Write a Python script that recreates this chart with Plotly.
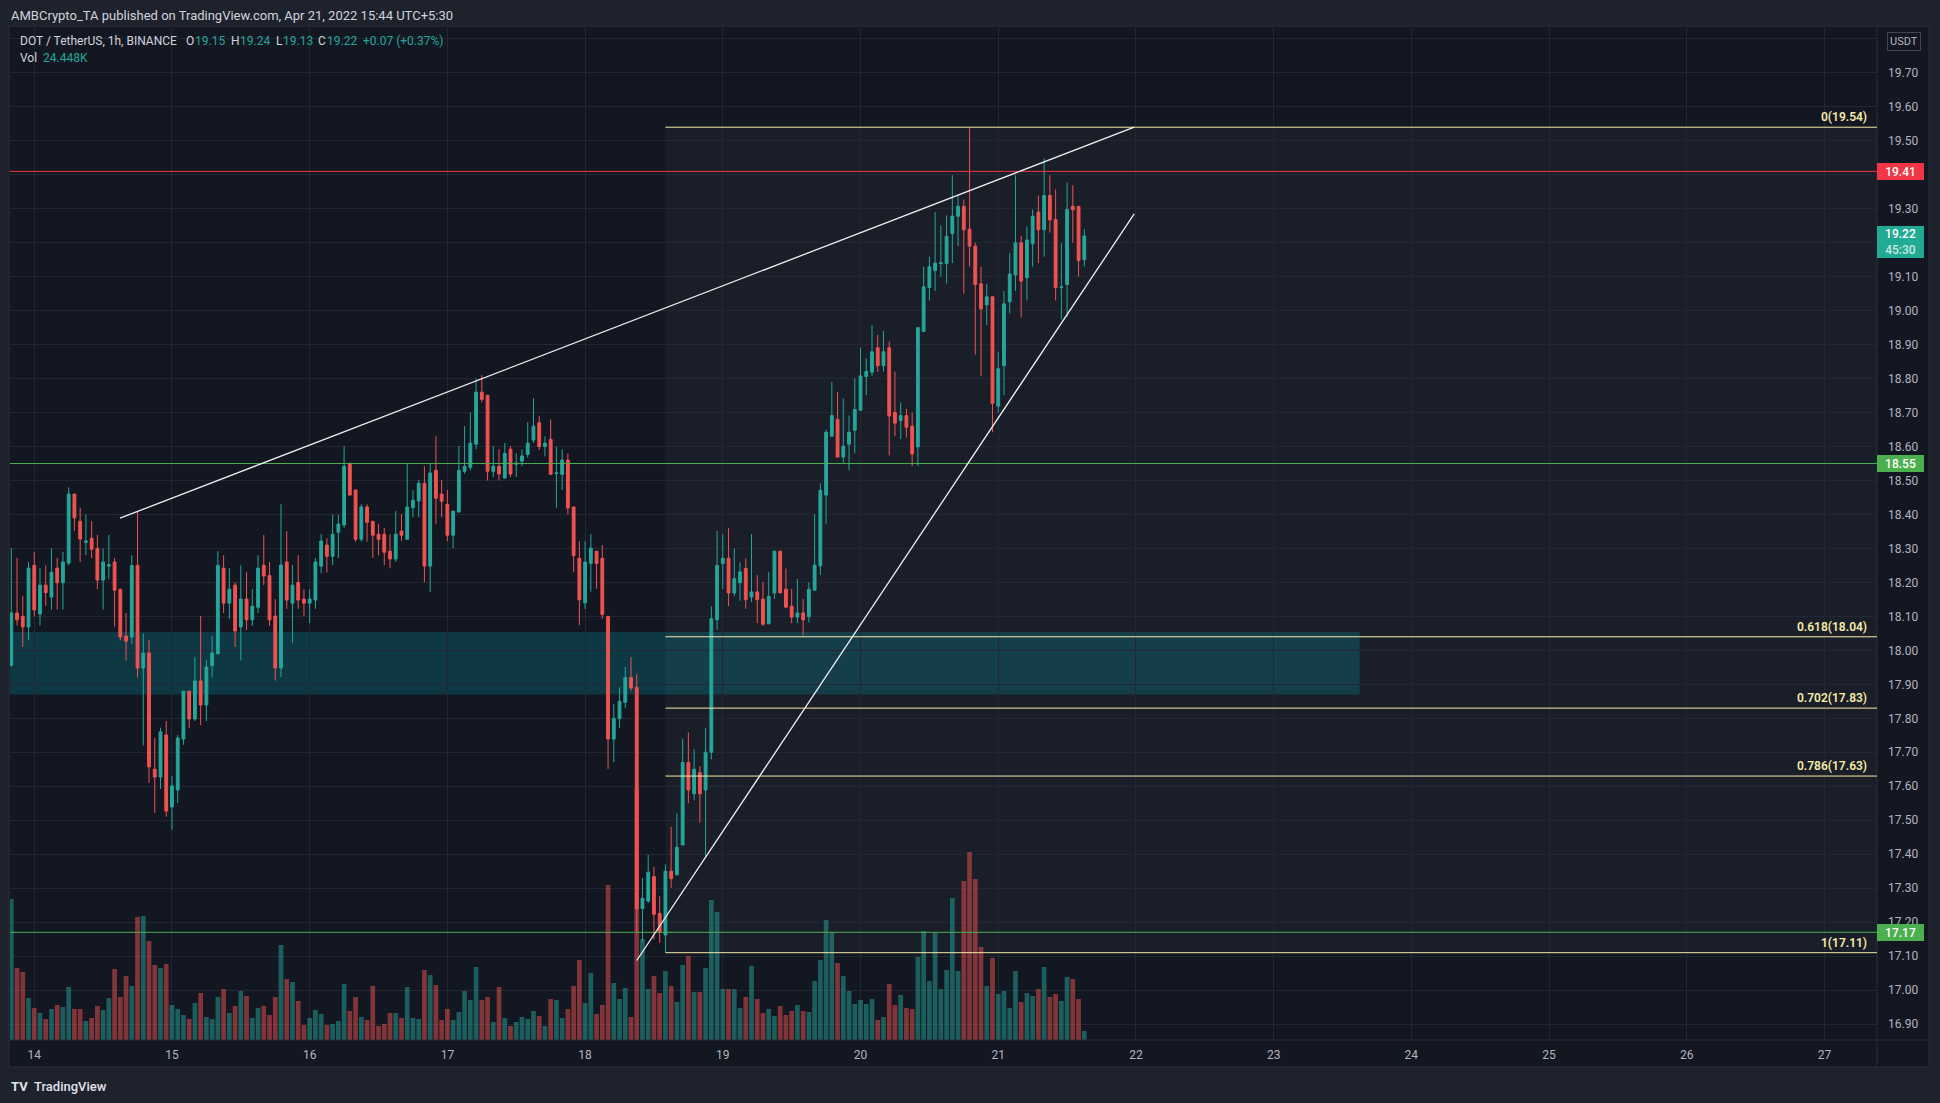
import plotly.graph_objects as go
import pandas as pd

# ---------------- data ----------------
times = pd.date_range("2022-04-13 20:30", periods=188, freq="h")

opens = [17.956, 18.110, 18.100, 18.069, 18.250, 18.107, 18.192, 18.157, 18.242, 18.199,
         18.257, 18.460, 18.380, 18.318, 18.330, 18.300, 18.207, 18.248, 18.260, 18.180,
         18.042, 18.039, 18.250, 17.948, 17.992, 17.650, 17.627, 17.751, 17.539, 17.589,
         17.739, 17.880, 17.798, 17.910, 17.839, 17.955, 17.990, 18.242, 18.139, 18.192,
         18.069, 18.151, 18.090, 18.127, 18.250, 18.220, 18.101, 17.948, 18.260, 18.139,
         18.200, 18.151, 18.139, 18.148, 18.248, 18.310, 18.277, 18.348, 18.369, 18.551,
         18.472, 18.327, 18.422, 18.380, 18.342, 18.342, 18.292, 18.269, 18.351, 18.327,
         18.420, 18.440, 18.492, 18.248, 18.530, 18.460, 18.430, 18.339, 18.407, 18.527,
         18.539, 18.607, 18.760, 18.751, 18.527, 18.542, 18.507, 18.592, 18.548, 18.557,
         18.577, 18.619, 18.670, 18.600, 18.621, 18.520, 18.518, 18.560, 18.422, 18.271,
         18.140, 18.256, 18.292, 18.271, 18.100, 17.739, 17.799, 17.847, 17.920, 17.891,
         17.240, 17.262, 17.334, 17.226, 17.162, 17.350, 17.339, 17.427, 17.670, 17.578,
         17.640, 17.589, 17.700, 18.090, 18.256, 18.271, 18.169, 18.199, 18.241, 18.157,
         18.172, 18.151, 18.078, 18.169, 18.292, 18.180, 18.130, 18.098, 18.110, 18.099,
         18.177, 18.249, 18.457, 18.630, 18.680, 18.569, 18.607, 18.648, 18.707, 18.806,
         18.819, 18.891, 18.838, 18.891, 18.700, 18.677, 18.691, 18.660, 18.599, 18.939,
         19.068, 19.118, 19.139, 19.139, 19.227, 19.278, 19.307, 19.240, 19.190, 19.079,
         19.017, 19.041, 18.719, 18.838, 19.026, 19.105, 19.200, 19.097, 19.197, 19.290,
         19.238, 19.339, 19.268, 19.068, 19.077, 19.307, 19.307, 19.150]

highs = [18.301, 18.272, 18.160, 18.260, 18.290, 18.242, 18.250, 18.300, 18.272, 18.290,
         18.480, 18.460, 18.420, 18.400, 18.380, 18.340, 18.300, 18.340, 18.272, 18.180,
         18.110, 18.280, 18.410, 18.050, 18.030, 17.742, 17.772, 17.792, 17.630, 17.751,
         17.880, 17.880, 17.980, 18.101, 17.972, 18.042, 18.292, 18.280, 18.242, 18.200,
         18.250, 18.230, 18.180, 18.280, 18.340, 18.260, 18.151, 18.430, 18.351, 18.251,
         18.280, 18.180, 18.180, 18.272, 18.342, 18.330, 18.400, 18.400, 18.601, 18.551,
         18.472, 18.430, 18.430, 18.380, 18.372, 18.360, 18.342, 18.410, 18.401, 18.551,
         18.472, 18.501, 18.542, 18.551, 18.630, 18.501, 18.472, 18.410, 18.601, 18.660,
         18.700, 18.800, 18.810, 18.751, 18.601, 18.592, 18.610, 18.601, 18.580, 18.592,
         18.672, 18.742, 18.690, 18.630, 18.680, 18.600, 18.592, 18.580, 18.422, 18.321,
         18.321, 18.342, 18.292, 18.310, 18.100, 17.843, 17.891, 17.951, 17.980, 17.930,
         17.330, 17.398, 17.363, 17.276, 17.370, 17.480, 17.520, 17.740, 17.758, 17.709,
         17.659, 17.772, 18.130, 18.351, 18.342, 18.360, 18.300, 18.259, 18.271, 18.342,
         18.221, 18.201, 18.230, 18.292, 18.292, 18.241, 18.181, 18.210, 18.151, 18.201,
         18.401, 18.492, 18.650, 18.790, 18.760, 18.741, 18.691, 18.801, 18.891, 18.859,
         18.958, 18.929, 18.940, 18.909, 18.821, 18.730, 18.711, 18.700, 18.950, 19.129,
         19.159, 19.290, 19.250, 19.280, 19.399, 19.339, 19.327, 19.540, 19.200, 19.129,
         19.079, 19.041, 18.879, 19.058, 19.169, 19.399, 19.220, 19.248, 19.298, 19.339,
         19.448, 19.399, 19.357, 19.198, 19.378, 19.369, 19.307, 19.240]

lows = [17.953, 18.073, 18.010, 18.030, 18.100, 18.073, 18.131, 18.120, 18.120, 18.120,
        18.251, 18.352, 18.260, 18.280, 18.272, 18.180, 18.120, 18.210, 18.070, 18.030,
        17.970, 18.020, 17.920, 17.720, 17.610, 17.522, 17.592, 17.510, 17.472, 17.551,
        17.722, 17.772, 17.792, 17.780, 17.792, 17.920, 17.990, 18.110, 18.092, 18.010,
        17.970, 18.060, 18.072, 18.110, 18.192, 18.072, 17.911, 17.922, 18.122, 18.022,
        18.122, 18.101, 18.080, 18.122, 18.227, 18.230, 18.251, 18.272, 18.360, 18.457,
        18.320, 18.320, 18.320, 18.272, 18.280, 18.251, 18.242, 18.260, 18.322, 18.327,
        18.392, 18.392, 18.201, 18.172, 18.372, 18.392, 18.322, 18.301, 18.407, 18.520,
        18.530, 18.592, 18.730, 18.500, 18.510, 18.500, 18.507, 18.510, 18.510, 18.542,
        18.568, 18.610, 18.590, 18.571, 18.518, 18.420, 18.472, 18.400, 18.231, 18.074,
        18.122, 18.173, 18.181, 18.093, 17.651, 17.671, 17.772, 17.830, 17.881, 17.170,
        17.140, 17.256, 17.149, 17.139, 17.110, 17.301, 17.339, 17.427, 17.550, 17.560,
        17.493, 17.392, 17.679, 18.060, 18.181, 18.130, 18.160, 18.146, 18.122, 18.142,
        18.080, 18.072, 18.078, 18.151, 18.169, 18.127, 18.080, 18.080, 18.044, 18.082,
        18.177, 18.222, 18.373, 18.630, 18.569, 18.552, 18.530, 18.580, 18.707, 18.751,
        18.808, 18.820, 18.821, 18.574, 18.630, 18.622, 18.626, 18.543, 18.543, 18.939,
        19.030, 19.058, 19.100, 19.080, 19.140, 19.190, 19.050, 19.130, 18.871, 18.808,
        18.958, 18.642, 18.700, 18.751, 18.992, 19.058, 18.980, 19.030, 19.130, 19.140,
        19.159, 19.230, 19.030, 18.974, 18.981, 19.200, 19.100, 19.130]

closes = [18.110, 18.090, 18.069, 18.242, 18.119, 18.192, 18.170, 18.230, 18.199, 18.260,
          18.460, 18.390, 18.328, 18.322, 18.298, 18.207, 18.260, 18.252, 18.177, 18.039,
          18.027, 18.250, 17.948, 17.992, 17.657, 17.627, 17.760, 17.527, 17.601, 17.742,
          17.880, 17.798, 17.910, 17.839, 17.951, 17.992, 18.250, 18.139, 18.180, 18.057,
          18.151, 18.090, 18.130, 18.242, 18.219, 18.090, 17.948, 18.251, 18.148, 18.192,
          18.148, 18.139, 18.151, 18.260, 18.322, 18.277, 18.342, 18.372, 18.542, 18.457,
          18.327, 18.422, 18.377, 18.339, 18.327, 18.289, 18.269, 18.342, 18.339, 18.422,
          18.442, 18.492, 18.248, 18.522, 18.448, 18.439, 18.339, 18.410, 18.530, 18.542,
          18.610, 18.760, 18.739, 18.527, 18.542, 18.519, 18.580, 18.519, 18.551, 18.572,
          18.610, 18.660, 18.600, 18.610, 18.518, 18.522, 18.560, 18.419, 18.279, 18.149,
          18.260, 18.301, 18.256, 18.106, 17.739, 17.800, 17.850, 17.920, 17.889, 17.239,
          17.270, 17.347, 17.223, 17.171, 17.350, 17.328, 17.420, 17.670, 17.589, 17.650,
          17.578, 17.700, 18.093, 18.250, 18.271, 18.169, 18.211, 18.231, 18.149, 18.172,
          18.149, 18.077, 18.159, 18.292, 18.169, 18.127, 18.098, 18.110, 18.090, 18.180,
          18.251, 18.471, 18.642, 18.691, 18.569, 18.601, 18.642, 18.709, 18.808, 18.821,
          18.879, 18.838, 18.879, 18.690, 18.669, 18.691, 18.657, 18.578, 18.950, 19.070,
          19.129, 19.140, 19.141, 19.219, 19.278, 19.307, 19.238, 19.190, 19.077, 19.005,
          19.041, 18.727, 18.829, 19.020, 19.108, 19.200, 19.087, 19.208, 19.278, 19.238,
          19.339, 19.267, 19.068, 19.070, 19.298, 19.297, 19.148, 19.220]

# relative volume
volume = [141, 72, 68, 42, 32, 27, 21, 31, 35, 33,
          53, 31, 31, 19, 22, 34, 30, 42, 71, 43,
          64, 54, 123, 124, 99, 75, 72, 76, 35, 31,
          25, 21, 37, 47, 23, 21, 43, 51, 27, 34,
          49, 44, 22, 32, 34, 25, 43, 95, 61, 58,
          39, 15, 22, 30, 26, 15, 16, 19, 56, 29,
          43, 23, 20, 54, 14, 16, 27, 27, 22, 53,
          22, 21, 70, 65, 55, 20, 31, 20, 28, 49,
          40, 73, 40, 43, 18, 53, 22, 14, 18, 23,
          21, 29, 24, 14, 41, 40, 22, 31, 54, 80,
          37, 67, 26, 35, 155, 57, 41, 52, 23, 252,
          101, 51, 64, 47, 69, 54, 38, 75, 84, 48,
          48, 72, 140, 128, 51, 51, 51, 32, 43, 74,
          41, 27, 31, 24, 34, 25, 29, 35, 29, 28,
          59, 80, 120, 108, 77, 64, 49, 36, 40, 36,
          41, 20, 23, 56, 35, 45, 32, 31, 83, 109,
          59, 107, 51, 70, 142, 69, 159, 188, 161, 93,
          54, 82, 46, 49, 32, 69, 38, 47, 44, 51,
          73, 43, 46, 39, 63, 61, 41, 9]

price_ticks = [16.9, 17.0, 17.1, 17.2, 17.3, 17.4, 17.5, 17.6, 17.7, 17.8, 17.9, 18.0,
               18.1, 18.2, 18.3, 18.4, 18.5, 18.6, 18.7, 18.8, 18.9, 19.0, 19.1, 19.2,
               19.3, 19.4, 19.5, 19.6, 19.7, 19.8]
hidden_ticks = [19.2, 19.4, 19.8]

fib_levels = [0, 0.618, 0.702, 0.786, 1]
fib_prices = [19.54, 18.04, 17.83, 17.63, 17.11]
fib_start = "2022-04-18 14:30"

red_level = 19.41
green_levels = [18.55, 17.17]
zone_low, zone_high = 17.87, 18.054
zone_end = "2022-04-23 15:30"

upper_trend_t = ["2022-04-14 15:26", "2022-04-22 00:12"]
upper_trend_p = [18.389, 19.54]
lower_trend_t = ["2022-04-18 09:30", "2022-04-22 00:12"]
lower_trend_p = [17.087, 19.285]

change_text = "+0.07 (+0.37%)"
last_price_label = "19.22"
countdown = "45:30"
vol_label = "24.448K"

# ---------------- layout constants ----------------
W, H = 1940, 1103
PL, PR, PT, PB = 10, 1877, 27, 1040
PW, PH = PR - PL, PB - PT
X_LEFT, X_RIGHT = "2022-04-13 20:16:24", "2022-04-27 09:39"
Y_LO, Y_HI = 16.853, 19.835

FRAME = "#1e222d"
PANEL = "#131722"
GRID = "#232733"
BORDER = "#2a2e39"
AXIS_TXT = "#b2b5be"
TXT = "#d1d4dc"
UP = "#26a69a"
DOWN = "#ef5350"
FIB = "#f6eba8"
FONT = "Roboto"


def px_x(px):
    return (px - PL) / PW


def px_y(py):
    return (PB - py) / PH


fig = go.Figure()

vol_colors = ["rgba(38,166,154,0.5)" if c >= o else "rgba(239,83,80,0.5)"
              for o, c in zip(opens, closes)]
fig.add_trace(go.Bar(x=times, y=volume, marker=dict(color=vol_colors, line=dict(width=0)),
                     width=0.82 * 3600000, yaxis="y", hoverinfo="skip", showlegend=False))

fig.add_trace(go.Candlestick(
    x=times, open=opens, high=highs, low=lows, close=closes, yaxis="y2",
    increasing=dict(line=dict(color=UP, width=1), fillcolor=UP),
    decreasing=dict(line=dict(color=DOWN, width=1), fillcolor=DOWN),
    whiskerwidth=0, showlegend=False))

shapes = []
# chart panel
shapes.append(dict(type="rect", xref="paper", yref="paper", x0=px_x(9), x1=px_x(1929),
                   y0=px_y(1067), y1=px_y(26), fillcolor=PANEL,
                   line=dict(color=BORDER, width=1), layer="below"))
# fib background
shapes.append(dict(type="rect", xref="x", yref="y2", x0=fib_start, x1=X_RIGHT,
                   y0=min(fib_prices), y1=max(fib_prices),
                   fillcolor="rgba(255,255,255,0.03)", line=dict(width=0), layer="below"))
# teal zone
shapes.append(dict(type="rect", xref="x", yref="y2", x0=X_LEFT, x1=zone_end,
                   y0=zone_low, y1=zone_high, fillcolor="rgba(0,188,212,0.2)",
                   line=dict(width=0), layer="below"))
# separators
shapes.append(dict(type="line", xref="paper", yref="paper", x0=px_x(PR), x1=px_x(PR),
                   y0=px_y(1067), y1=px_y(26), line=dict(color=BORDER, width=1), layer="above"))
shapes.append(dict(type="line", xref="paper", yref="paper", x0=px_x(9), x1=px_x(1929),
                   y0=0, y1=0, line=dict(color=BORDER, width=1), layer="above"))
# horizontal levels
shapes.append(dict(type="line", xref="x", yref="y2", x0=X_LEFT, x1=X_RIGHT,
                   y0=red_level, y1=red_level, line=dict(color="#f23645", width=1), layer="above"))
for g in green_levels:
    shapes.append(dict(type="line", xref="x", yref="y2", x0=X_LEFT, x1=X_RIGHT,
                       y0=g, y1=g, line=dict(color="#4caf50", width=1), layer="above"))
# fib lines
for p in fib_prices:
    shapes.append(dict(type="line", xref="x", yref="y2", x0=fib_start, x1=X_RIGHT,
                       y0=p, y1=p, line=dict(color=FIB, width=1), layer="above"))
# trend lines
for tt, pp in ((upper_trend_t, upper_trend_p), (lower_trend_t, lower_trend_p)):
    shapes.append(dict(type="line", xref="x", yref="y2", x0=tt[0], x1=tt[1],
                       y0=pp[0], y1=pp[1], line=dict(color="#f0f0f0", width=1.3), layer="above"))

ann = []


def txt(px, py, s, color=TXT, size=13, anchor="left", weight="normal"):
    ann.append(dict(xref="paper", yref="paper", x=px_x(px), y=px_y(py), text=s,
                    showarrow=False, xanchor=anchor, yanchor="middle",
                    font=dict(family=FONT, size=size, color=color, weight=weight)))


LS = 12
txt(9, 15, "AMBCrypto_TA published on TradingView.com, Apr 21, 2022 15:44 UTC+5:30", size=13)
txt(18, 41, "DOT / TetherUS, 1h, BINANCE", size=LS)
txt(184, 41, "O", size=LS)
txt(193, 41, f"{opens[-1]:.2f}", color=UP, size=LS)
txt(229, 41, "H", size=LS)
txt(238, 41, f"{highs[-1]:.2f}", color=UP, size=LS)
txt(274, 41, "L", size=LS)
txt(281, 41, f"{lows[-1]:.2f}", color=UP, size=LS)
txt(316, 41, "C", size=LS)
txt(325, 41, f"{closes[-1]:.2f}", color=UP, size=LS)
txt(361, 41, change_text, color=UP, size=LS)
txt(18, 58, "Vol", size=LS)
txt(41, 58, vol_label, color=UP, size=LS)
txt(9, 1086, "<b>TV</b>", color="#e0e3eb", size=13)
txt(32, 1086, "TradingView", color="#e0e3eb", size=13, weight=500)

# fib labels
for lvl, p in zip(fib_levels, fib_prices):
    ann.append(dict(xref="paper", yref="y2", x=px_x(1869), y=p, yshift=1,
                    text=f"{lvl:g}({p:.2f})", showarrow=False, xanchor="right", yanchor="bottom",
                    font=dict(family=FONT, size=12, color=FIB, weight=600)))

# price-axis boxes


def price_box(p, s, bg, height=17, yanchor="middle", yshift=0):
    ann.append(dict(xref="paper", yref="y2", x=px_x(PR), y=p, yshift=yshift, text=s,
                    showarrow=False, xanchor="left", yanchor=yanchor, bgcolor=bg,
                    width=47, height=height, borderpad=0, borderwidth=0, align="center",
                    valign="middle",
                    font=dict(family=FONT, size=12, color="#ffffff", weight=500)))


price_box(red_level, f"{red_level:.2f}", "#f23645")
for g in green_levels:
    price_box(g, f"{g:.2f}", "#4caf50")
price_box(closes[-1], f"{last_price_label}<br><span style='color:rgba(255,255,255,0.75)'>{countdown}</span>",
          "#22ab94", height=32, yanchor="top", yshift=10)

# USDT box
ann.append(dict(xref="paper", yref="paper", x=px_x(1904), y=px_y(42), text="USDT",
                showarrow=False, xanchor="center", yanchor="middle", bordercolor="#434651",
                borderwidth=1, borderpad=2, font=dict(family=FONT, size=11, color=AXIS_TXT)))

fig.update_layout(
    width=W, height=H,
    paper_bgcolor=FRAME, plot_bgcolor=PANEL,
    margin=dict(l=PL, r=W - PR, t=PT, b=H - PB, autoexpand=False),
    showlegend=False,
    shapes=shapes, annotations=ann,
    xaxis=dict(type="date", range=[X_LEFT, X_RIGHT], tick0="2022-04-14 00:30",
               dtick=86400000, tickformat="%-d", showgrid=True, gridcolor=GRID, gridwidth=1,
               zeroline=False, showline=False, ticks="", rangeslider=dict(visible=False),
               tickfont=dict(family=FONT, size=12, color=AXIS_TXT), ticklabelstandoff=6,
               fixedrange=True),
    yaxis=dict(range=[0, PH], visible=False, showgrid=False, zeroline=False, fixedrange=True),
    yaxis2=dict(overlaying="y", side="right", anchor="x", range=[Y_LO, Y_HI],
                tickvals=price_ticks,
                ticktext=["" if t in hidden_ticks else f"{t:.2f}" for t in price_ticks],
                showgrid=True, gridcolor=GRID, gridwidth=1, zeroline=False, showline=False,
                ticks="", tickfont=dict(family=FONT, size=12, color=AXIS_TXT),
                ticklabelstandoff=10, fixedrange=True),
)

fig.write_html("out.html", config={"displayModeBar": False})
